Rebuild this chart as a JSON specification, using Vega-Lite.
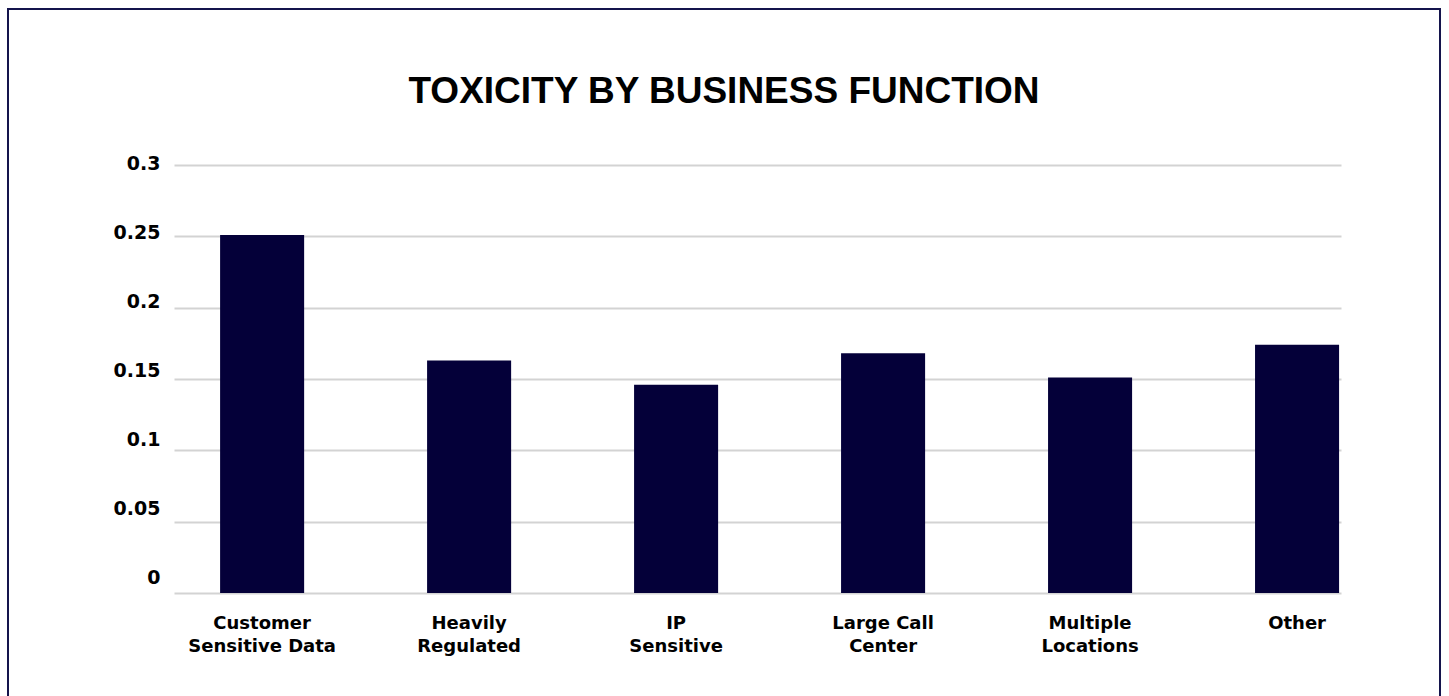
{
  "$schema": "https://vega.github.io/schema/vega-lite/v6.json",
  "autosize": "none",
  "width": 1432,
  "height": 689,
  "padding": {"left": 8, "top": 9, "right": 9, "bottom": -2},
  "background": "white",
  "title": {
    "text": "TOXICITY BY BUSINESS FUNCTION",
    "font": "Liberation Sans",
    "fontSize": 37,
    "fontWeight": "bold",
    "color": "black",
    "anchor": "middle",
    "baseline": "alphabetic",
    "offset": -131
  },
  "data": {
    "values": [
      {"function": "Customer Sensitive Data", "toxicity": 0.251},
      {"function": "Heavily Regulated", "toxicity": 0.163},
      {"function": "IP Sensitive", "toxicity": 0.146},
      {"function": "Large Call Center", "toxicity": 0.168},
      {"function": "Multiple Locations", "toxicity": 0.151},
      {"function": "Other", "toxicity": 0.174}
    ]
  },
  "mark": {"type": "bar", "color": "#040039"},
  "encoding": {
    "x": {
      "field": "function",
      "type": "nominal",
      "sort": null,
      "scale": {"range": [166, 1333], "paddingInner": 0.594, "paddingOuter": 0.116, "align": 0.96},
      "axis": {
        "title": null,
        "orient": "bottom",
        "offset": -105,
        "domain": false,
        "ticks": false,
        "grid": false,
        "labelAngle": 0,
        "labelFont": "DejaVu Sans",
        "labelFontWeight": "bold",
        "labelFontSize": 18,
        "labelColor": "black",
        "labelPadding": 21,
        "labelLineHeight": 23,
        "labelExpr": "datum.label == 'Large Call Center' ? ['Large Call', 'Center'] : split(replace(datum.label, ' ', '|'), '|')"
      }
    },
    "y": {
      "field": "toxicity",
      "type": "quantitative",
      "scale": {"domain": [0, 0.3], "range": [584, 156], "nice": false, "zero": true},
      "axis": {
        "title": null,
        "offset": -166,
        "domain": false,
        "ticks": false,
        "grid": true,
        "gridColor": "#d3d3d3",
        "gridWidth": 2,
        "values": [0, 0.05, 0.1, 0.15, 0.2, 0.25, 0.3],
        "format": "~g",
        "labelFont": "DejaVu Sans",
        "labelFontSize": 19,
        "labelFontWeight": "bold",
        "labelColor": "black",
        "labelPadding": 14,
        "labelOffset": {
          "condition": [
            {"test": "datum.value == 0", "value": -16},
            {"test": "datum.value == 0.05", "value": -13},
            {"test": "datum.value == 0.1", "value": -11},
            {"test": "datum.value == 0.15", "value": -8.5},
            {"test": "datum.value == 0.2", "value": -6.5},
            {"test": "datum.value == 0.25", "value": -3.5}
          ],
          "value": -2
        }
      }
    }
  },
  "config": {
    "view": {"stroke": "#14144c", "strokeWidth": 2, "fill": "white"}
  }
}
